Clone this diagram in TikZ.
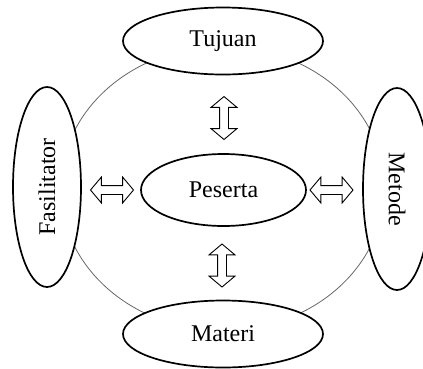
\documentclass[tikz,border=0pt]{standalone}
\usepackage{fontspec}
\setmainfont{Liberation Serif}
\usetikzlibrary{shapes.geometric,shapes.arrows}
\begin{document}
\begin{tikzpicture}[x=1pt,y=-1pt,
  oval/.style={ellipse, draw=black, line width=1.7pt, fill=white, inner sep=0pt,
    font=\fontsize{24}{28}\selectfont},
  dblarrow/.style={double arrow, draw=black, line width=0.9pt, fill=white,
    minimum height=43pt, inner xsep=0pt, inner ysep=4pt,
    double arrow head extend=8.5pt, double arrow tip angle=100},
  ring/.style={ellipse, draw=black!60, line width=0.8pt, inner sep=0pt}]
\useasboundingbox (0,0) rectangle (423,368);
\node[ring, minimum width=324pt, minimum height=284pt] (ring) at (222.5,188.5) {};
\node[oval, minimum width=200pt, minimum height=67pt] (tujuan) at (223,41) {Tujuan};
\node[oval, minimum width=200pt, minimum height=67pt] (materi) at (223,334) {Materi};
\node[oval, rotate=90, minimum width=200pt, minimum height=68pt] (fasil) at (47,187) {Fasilitator};
\node[oval, rotate=-90, minimum width=202pt, minimum height=68pt] (metode) at (397,189) {Metode};
\node[oval, minimum width=165pt, minimum height=72pt] (peserta) at (223.5,190) {Peserta};
\node[dblarrow, rotate=90] (a1) at (224,118) {};
\node[dblarrow, rotate=90] (a2) at (222,265.5) {};
\node[dblarrow] (a3) at (112,190) {};
\node[dblarrow] (a4) at (331.5,190) {};
\end{tikzpicture}
\end{document}
